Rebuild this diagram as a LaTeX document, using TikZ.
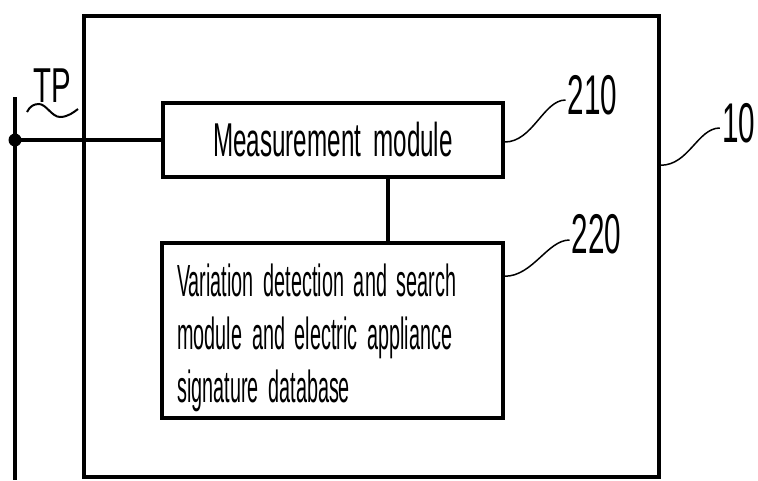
\documentclass[tikz,border=0pt]{standalone}
\usepackage{fontspec}
\setmainfont{Liberation Sans}
\newfontfamily\fa[FakeStretch=0.44,WordSpace=1.8]{Liberation Sans}
\newfontfamily\fb[FakeStretch=0.51,WordSpace=1.8]{Liberation Sans}
\newfontfamily\fc[FakeStretch=0.53]{Liberation Sans}
\newfontfamily\fd[FakeStretch=0.6]{Liberation Sans}
\begin{document}
\begin{tikzpicture}[x=1pt,y=-1pt,
  boxst/.style={draw, line width=3.5pt, inner sep=0pt},
  wire/.style={line width=4pt},
  leader/.style={line width=1.5pt},
  lbl/.style={inner sep=0pt, font=\fc\fontsize{56}{60}\selectfont}]
\useasboundingbox (0,0) rectangle (758,480);
% outer box 10
\node[boxst, minimum width=575pt, minimum height=461pt] (outer) at (371.5,246.5) {};
% measurement module
\node[boxst, minimum width=340pt, minimum height=74pt,
  font=\fb\fontsize{47.5}{50}\selectfont] (m) at (333,140) {Measurement module};
% variation box
\node[boxst, minimum width=341pt, minimum height=175pt] (d) at (332.5,330.5) {};
\node[inner sep=0pt, anchor=north west, align=left,
  font=\fa\fontsize{45}{53}\selectfont] (dt) at (177,264)
  {Variation detection and search\\module and electric appliance\\signature database};
% left line and tap point
\coordinate (ltop) at (15,97);
\coordinate (lbot) at (15,480);
\draw[wire] (ltop) -- (lbot);
\node[circle, fill, inner sep=0pt, minimum size=13pt] (tp) at (15,140) {};
\draw[wire] (tp.center) -- (m.west);
% connector between modules
\draw[wire] ([xshift=55pt]m.south) -- ([xshift=55.5pt]d.north);
% labels
\node[lbl] (l210) at (592.5,95) {210};
\node[lbl] (l220) at (596.5,234) {220};
\node[lbl] (l10) at (738.5,123) {10};
\node[inner sep=0pt, font=\fd\fontsize{49}{52}\selectfont] (ltp) at (52,86) {TP};
% leaders
\draw[leader] ([yshift=-2pt]m.east) .. controls +(28,0) and +(-22,0) .. ([yshift=-5pt,xshift=-2pt]l210.west);
\draw[leader] ([yshift=-35pt]d.north east) .. controls +(28,0) and +(-22,0) .. ([yshift=-6pt,xshift=-2pt]l220.west);
\draw[leader] ([yshift=-151pt]outer.north east) .. controls +(28,0) and +(-22,0) .. ([yshift=-5pt,xshift=-2pt]l10.west);
% tilde under TP
\draw[leader, line width=2pt] (27,112) .. controls (30,106) and (34,104) .. (39,104)
  .. controls (46,104) and (52,117) .. (60,117) .. controls (68,117) and (74,112) .. (78,109);
\end{tikzpicture}
\end{document}
